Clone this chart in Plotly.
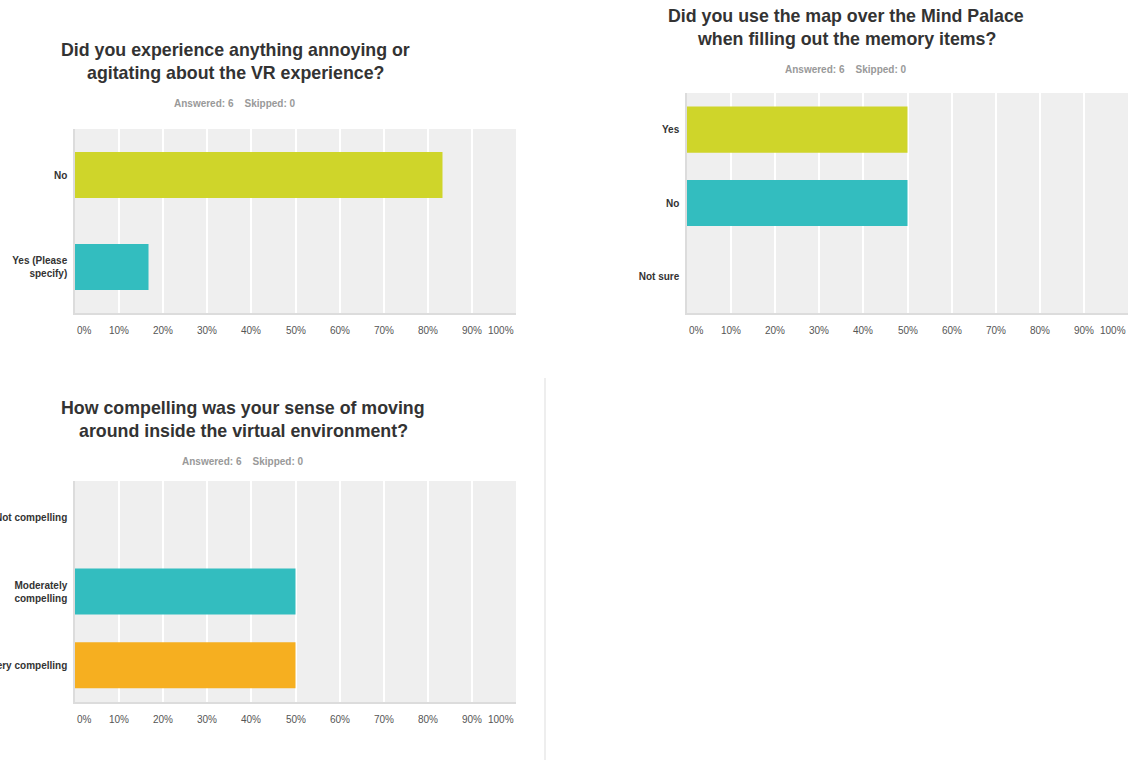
import plotly.graph_objects as go

# ---- data ----
q1_title = ["Did you experience anything annoying or", "agitating about the VR experience?"]
q1_categories = ["No", "Yes (Please<br>specify)"]
q1_values = [83.33, 16.67]

q2_title = ["Did you use the map over the Mind Palace", "when filling out the memory items?"]
q2_categories = ["Yes", "No", "Not sure"]
q2_values = [50.0, 50.0, 0.0]

q3_title = ["How compelling was your sense of moving", "around inside the virtual environment?"]
q3_categories = ["Not compelling", "Moderately<br>compelling", "Very compelling"]
q3_values = [0.0, 50.0, 50.0]

subtitle = "Answered: 6\u00a0\u00a0\u00a0\u00a0Skipped: 0"
tick_values = [0, 10, 20, 30, 40, 50, 60, 70, 80, 90, 100]
tick_labels = ["0%", "10%", "20%", "30%", "40%", "50%", "60%", "70%", "80%", "90%", "100%"]

bar_colors = ["#cfd52a", "#33bdbf", "#f6af20"]

W, H = 1141, 760
FONT = "Liberation Sans, Arial, Helvetica, sans-serif"

def px(x):
    return x / W

def py(y):
    return 1 - y / H

fig = go.Figure()

panels = [
    # (categories, values, title, x0, x1, ytop, ybot, title_cx, title_y1, bargap, ticky)
    (q1_categories, q1_values, q1_title, 75, 516, 129, 313, 235, 50, 0.5, 330),
    (q2_categories, q2_values, q2_title, 687, 1128, 93, 313, 846, 16, 0.37, 330),
    (q3_categories, q3_values, q3_title, 75, 516, 481, 702, 243, 408, 0.375, 719),
]

annotations = []
for i, (cats, vals, title, x0, x1, yt, yb, tcx, ty1, gap, ticky) in enumerate(panels):
    n = i + 1
    xa = "x" if n == 1 else f"x{n}"
    ya = "y" if n == 1 else f"y{n}"
    fig.add_trace(go.Bar(
        x=vals, y=cats, orientation="h", width=1 - gap,
        marker=dict(color=bar_colors[:len(cats)], line=dict(width=0)),
        xaxis=xa, yaxis=ya, showlegend=False, hoverinfo="x+y",
    ))
    xkey = "xaxis" if n == 1 else f"xaxis{n}"
    ykey = "yaxis" if n == 1 else f"yaxis{n}"
    fig.layout[xkey] = dict(
        domain=[px(x0), px(x1)], anchor=ya, range=[0, 100],
        tickvals=tick_values, showticklabels=False, showgrid=True,
        gridcolor="#ffffff", gridwidth=1.5, zeroline=False,
        showline=True, linecolor="#dcdcdc", linewidth=2, fixedrange=True,
        automargin=False,
    )
    fig.layout[ykey] = dict(
        domain=[py(yb), py(yt)], anchor=xa, autorange="reversed",
        showgrid=False, zeroline=False, showline=True, linecolor="#dcdcdc",
        linewidth=1.5, ticks="", ticklabelstandoff=4, automargin=False,
        tickfont=dict(family=FONT, size=10, color="#333333", weight="bold"),
        fixedrange=True,
    )
    # titles
    for j, line in enumerate(title):
        annotations.append(dict(
            text=line, xref="paper", yref="paper", x=px(tcx), y=py(ty1 + 23 * j),
            xanchor="center", yanchor="middle", showarrow=False,
            font=dict(family=FONT, size=17.8, color="#333333", weight="bold"),
        ))
    annotations.append(dict(
        text=subtitle, xref="paper", yref="paper", x=px(tcx), y=py(ty1 + 53),
        xanchor="center", yanchor="middle", showarrow=False,
        font=dict(family=FONT, size=10, color="#999999", weight="bold"),
    ))
    # x tick labels
    for v, lab in zip(tick_values, tick_labels):
        anchor = "left" if v == 0 else ("right" if v == 100 else "center")
        annotations.append(dict(
            text=lab, xref=xa, yref="paper", x=v, y=py(ticky),
            xanchor=anchor, yanchor="middle", showarrow=False,
            font=dict(family=FONT, size=10, color="#555555"),
        ))

fig.update_layout(
    width=W, height=H,
    margin=dict(l=0, r=0, t=0, b=0),
    paper_bgcolor="white",
    plot_bgcolor="#efefef",
    annotations=annotations,
    shapes=[dict(type="line", xref="paper", yref="paper",
                 x0=px(545), x1=px(545), y0=py(378), y1=py(760),
                 line=dict(color="#dddddd", width=1))],
    font=dict(family=FONT),
)

fig.write_html(
    "out.html",
    config={"displayModeBar": False},
    post_script="document.body.style.margin='0px';document.body.style.overflow='hidden';",
)
